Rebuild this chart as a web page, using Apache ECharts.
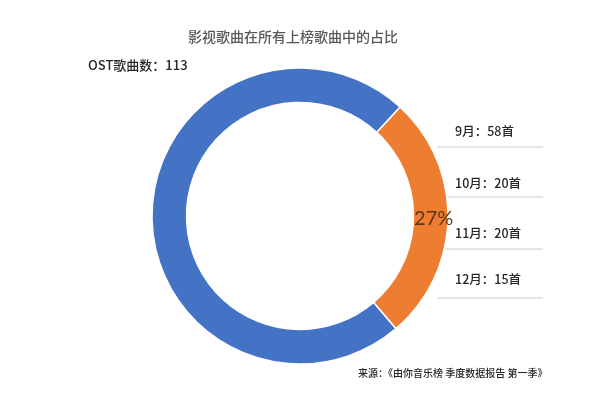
<!DOCTYPE html>
<html><head><meta charset="utf-8">
<script src="https://cdn.jsdelivr.net/npm/echarts@6/dist/echarts.min.js"></script>
<style>html,body{margin:0;padding:0;background:#fff}#c{width:600px;height:399px}</style>
</head><body><div id="c"></div>
<script>
const categories = ['OST歌曲', '其他歌曲'];
const values = [113, 306];
const ostLabel = 'OST歌曲数：113';
const months = ['9月', '10月', '11月', '12月'];
const monthCounts = [58, 20, 20, 15];
const titleText = '影视歌曲在所有上榜歌曲中的占比';
const sourceText = '来源：《由你音乐榜 季度数据报告 第一季》';

const chart = echarts.init(document.getElementById('c'));
const font = '"Noto Sans CJK SC", "Noto Sans", sans-serif';
const total = values.reduce((a, b) => a + b, 0);
const monthY = [134, 186, 236, 282];
const lineY = [147, 197, 249, 298];
const graphics = [];
months.forEach((m, i) => {
  graphics.push({type: 'text', left: 455, top: monthY[i] - 9,
    style: {text: m + '：' + monthCounts[i] + '首', font: '500 12.5px ' + font, fill: '#262626'}});
  graphics.push({type: 'line', shape: {x1: 437, y1: lineY[i], x2: 543, y2: lineY[i]},
    style: {stroke: '#c9ccd2', lineWidth: 1}});
});
graphics.push({type: 'text', left: 88, top: 59,
  style: {text: ostLabel, font: '500 13px ' + font, fill: '#262626'}});
graphics.push({type: 'text', left: 358, top: 368,
  style: {text: sourceText, font: '500 10px ' + font, fill: '#262626'}});

chart.setOption({
  animation: false,
  title: {text: titleText, left: 183, top: 25,
    textStyle: {fontSize: 14, fontWeight: 500, color: '#595959', fontFamily: font}},
  series: [{
    type: 'pie',
    center: [300, 216],
    radius: [113.5, 148],
    startAngle: 47.5,
    clockwise: true,
    data: categories.map((c, i) => ({name: c, value: values[i]})),
    itemStyle: {borderColor: '#fff', borderWidth: 1.5},
    color: ['#ED7D31', '#4472C4'],
    label: {
      position: 'inside',
      formatter: p => p.dataIndex === 0 ? Math.round(p.value / total * 100) + '%' : '',
      fontSize: 20, color: '#5e3414', fontFamily: 'Lato, "Liberation Sans", sans-serif', fontWeight: 400
    },
    labelLine: {show: false},
    emphasis: {disabled: true}
  }],
  graphic: graphics
});
</script></body></html>
